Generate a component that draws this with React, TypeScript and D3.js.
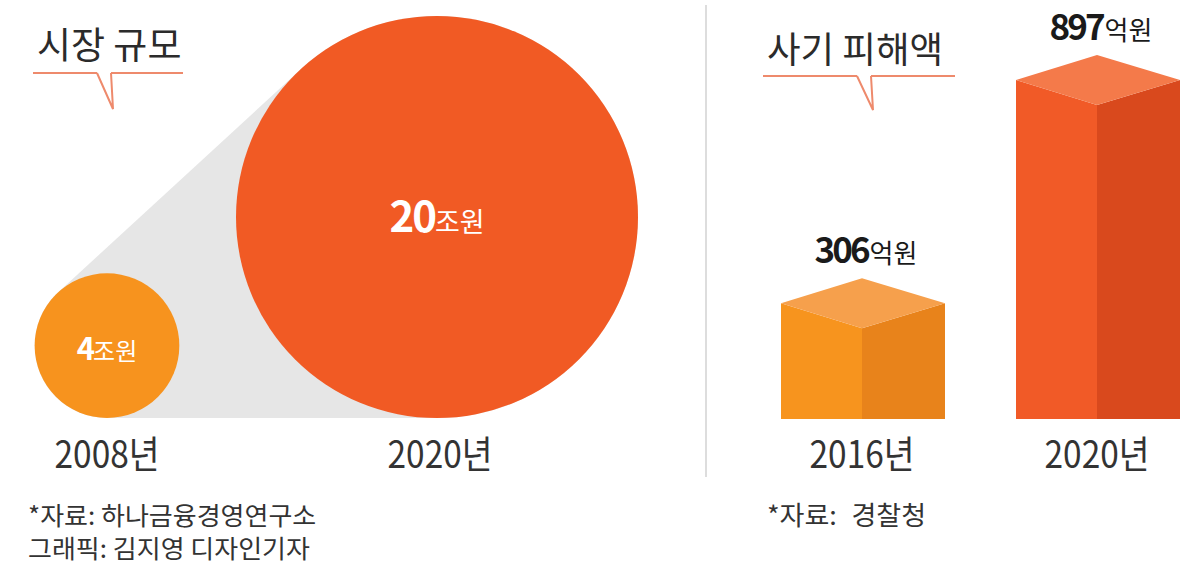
import React from "react";
import * as d3 from "d3";

// 시장 규모 (조원)
const marketYears = ["2008", "2020"];
const marketValues = [4, 20];
// 사기 피해액 (억원)
const fraudYears = ["2016", "2020"];
const fraudValues = [306, 897];

const W = 1188;
const H = 575;
const FONT = "'Noto Sans CJK KR', 'Noto Sans', sans-serif";

const baseY = 418;
const rScale = d3.scalePow().exponent(0.635).domain([0, 20]).range([0, 201]);
const xCircle = d3.scalePoint().domain(marketYears).range([107, 437]);

const barBase = 419;
const yBar = d3.scaleLinear().domain([0, 897]).range([0, 339]);
const xBar = d3.scalePoint().domain(fraudYears).range([862, 1097]);
const frontW = 81;
const sideW = 83;
const depth = 25;

const circleColors = ["#F7931E", "#F15A24"];
const cubeColors = [
  { front: "#F7941E", side: "#E8831B", top: "#F6A04C" },
  { front: "#F15A27", side: "#D9491D", top: "#F47A4A" },
];

const pts = (arr: number[][]) => arr.map((p) => p.join(",")).join(" ");

// narrow text, like the condensed gothic of the original
function Narrow({ x, y, size, sx, anchor = "start", children, fill = "#333" }: any) {
  return (
    <text
      transform={`translate(${x},${y}) scale(${sx},1)`}
      fontSize={size}
      fill={fill}
      textAnchor={anchor}
    >
      {children}
    </text>
  );
}

function Callout({ x1, x2, y, gapL, gapR, tipX, tipY }: any) {
  const c = "#EE8A6C";
  return (
    <g stroke={c} strokeWidth={2} fill="none">
      <line x1={x1} x2={gapL} y1={y} y2={y} />
      <line x1={gapR} x2={x2} y1={y} y2={y} />
      <polyline points={pts([[gapL, y], [tipX, tipY], [gapR, y]])} />
    </g>
  );
}

export default function App() {
  const circles = marketValues.map((v, i) => {
    const r = rScale(v);
    return { cx: xCircle(marketYears[i]) as number, cy: baseY - r, r, v };
  });

  const hullPts: [number, number][] = [];
  circles.forEach((c) => {
    for (let a = 0; a < 360; a += 1) {
      const t = (a * Math.PI) / 180;
      hullPts.push([c.cx + c.r * Math.cos(t), c.cy + c.r * Math.sin(t)]);
    }
  });
  const hull = d3.polygonHull(hullPts) || [];

  return (
    <svg
      width={W}
      height={H}
      style={{ position: "absolute", left: 0, top: 0, background: "#fff" }}
      fontFamily={FONT}
    >
      {/* left panel: market size */}
      <Narrow x={37} y={59} size={37} sx={1} fill="#2b2b2b">시장 규모</Narrow>
      <Callout x1={33} x2={183} y={73} gapL={97} gapR={111} tipX={113} tipY={109} />

      <path d={"M" + hull.map((p) => p.join(",")).join("L") + "Z"} fill="#E6E6E6" />
      {circles.map((c, i) => (
        <circle key={i} cx={c.cx} cy={c.cy} r={c.r} fill={circleColors[i]} />
      ))}
      {circles.map((c, i) => (
        <text key={"v" + i} x={c.cx} y={i === 0 ? 360 : 232} textAnchor="middle" fill="#fff">
          <tspan fontSize={i === 0 ? 31 : 42} fontWeight={700} letterSpacing={-2}>
            {c.v}
          </tspan>
          <tspan fontSize={i === 0 ? 24 : 27}>조원</tspan>
        </text>
      ))}
      {marketYears.map((y, i) => (
        <Narrow key={"y" + y} x={(xCircle(y) as number) + (i === 0 ? 0 : 3)} y={468} size={38} sx={0.88} anchor="middle">
          {y}년
        </Narrow>
      ))}

      <Narrow x={28} y={525} size={25} sx={1.04}>*자료: 하나금융경영연구소</Narrow>
      <Narrow x={28} y={558} size={25} sx={1.04}>그래픽: 김지영 디자인기자</Narrow>

      {/* divider */}
      <line x1={706} x2={706} y1={5} y2={477} stroke="#DDDDDD" strokeWidth={2} />

      {/* right panel: fraud damage */}
      <Narrow x={767} y={63} size={36.5} sx={1} fill="#2b2b2b">사기 피해액</Narrow>
      <Callout x1={763} x2={955} y={76} gapL={857} gapR={871} tipX={873} tipY={110} />

      {fraudValues.map((v, i) => {
        const cx = xBar(fraudYears[i]) as number;
        const top = barBase - yBar(v);
        const col = cubeColors[i];
        return (
          <g key={"b" + i}>
            <polygon
              points={pts([[cx - frontW, barBase], [cx - frontW, top], [cx, top + depth], [cx, barBase]])}
              fill={col.front}
            />
            <polygon
              points={pts([[cx, barBase], [cx, top + depth], [cx + sideW, top], [cx + sideW, barBase]])}
              fill={col.side}
            />
            <polygon
              points={pts([[cx - frontW, top], [cx, top - depth], [cx + sideW, top], [cx, top + depth]])}
              fill={col.top}
            />
            <text x={cx + 4} y={top - depth - 15} textAnchor="middle" fill="#1a1a1a">
              <tspan fontSize={35} fontWeight={700} letterSpacing={-3}>
                {v}
              </tspan>
              <tspan fontSize={26} dx={2}>억원</tspan>
            </text>
            <Narrow x={cx} y={468} size={38} sx={0.88} anchor="middle">
              {fraudYears[i]}년
            </Narrow>
          </g>
        );
      })}

      <Narrow x={767} y={525} size={26} sx={1.04}>
        *자료:<tspan dx={14}>경찰청</tspan>
      </Narrow>
    </svg>
  );
}
